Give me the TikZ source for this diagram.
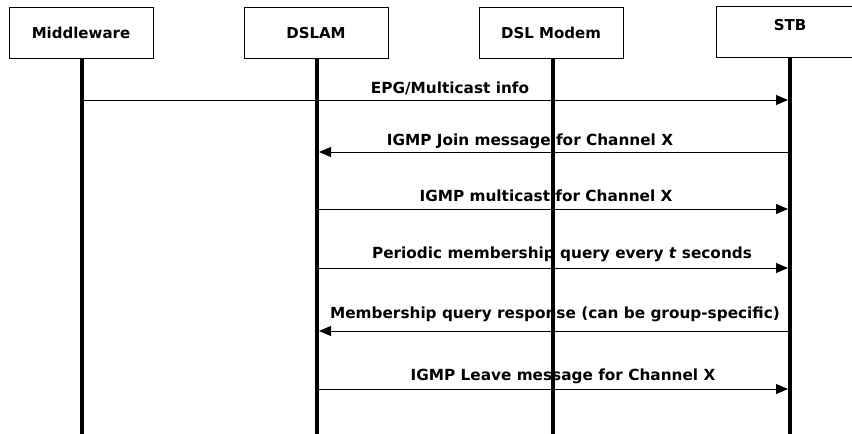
\documentclass[tikz,border=0pt]{standalone}
\usepackage{fontspec}
\setmainfont{DejaVu Sans}
\usetikzlibrary{arrows.meta}
\begin{document}
\begin{tikzpicture}[x=1pt,y=-1pt,
  actor/.style={draw=black,line width=0.8pt,fill=white,minimum width=144pt,minimum height=51pt,inner sep=0pt,font=\fontsize{15}{17}\selectfont\bfseries},
  lifeline/.style={line width=4pt},
  msg/.style={line width=0.9pt,-{Triangle[length=12pt,width=10pt]}},
  lbl/.style={anchor=base,inner sep=0pt,font=\fontsize{15.3}{17}\selectfont\bfseries}]
\useasboundingbox (0,0) rectangle (852,434);
\node[actor] (mw) at (81,33) {Middleware};
\node[actor] (ds) at (316,33) {DSLAM};
\node[actor] (dm) at (551,33) {DSL Modem};
\node[actor,anchor=north west] (stb) at (716,6) {};
\node[lbl,font=\fontsize{15}{17}\selectfont\bfseries] (stbt) at (790,30) {STB};
% lifelines
\coordinate (mwb) at (82,440);
\coordinate (dsb) at (317,440);
\coordinate (dmb) at (553,440);
\coordinate (stbb) at (790,440);
\draw[lifeline] (mw.south -| mwb) -- (mwb);
\draw[lifeline] (ds.south -| dsb) -- (dsb);
\draw[lifeline] (dm.south -| dmb) -- (dmb);
\draw[lifeline] (stb.south -| stbb) -- (stbb);
% message endpoints
\coordinate (m1a) at (82,100);  \coordinate (m1b) at (788,100);
\coordinate (m2a) at (788,152); \coordinate (m2b) at (319,152);
\coordinate (m3a) at (319,209); \coordinate (m3b) at (788,209);
\coordinate (m4a) at (319,268); \coordinate (m4b) at (788,268);
\coordinate (m5a) at (788,331); \coordinate (m5b) at (319,331);
\coordinate (m6a) at (319,389); \coordinate (m6b) at (788,389);
\draw[msg] (m1a) -- (m1b);
\draw[msg] (m2a) -- (m2b);
\draw[msg] (m3a) -- (m3b);
\draw[msg] (m4a) -- (m4b);
\draw[msg] (m5a) -- (m5b);
\draw[msg] (m6a) -- (m6b);
\node[lbl] (l1) at (450,93) {EPG/Multicast info};
\node[lbl] (l2) at (530,145) {IGMP Join message for Channel X};
\node[lbl] (l3) at (546,201.5) {IGMP multicast for Channel X};
\node[lbl] (l4) at (562,258.5) {Periodic membership query every \textit{t} seconds};
\node[lbl] (l5) at (555,318) {Membership query response (can be group-specific)};
\node[lbl] (l6) at (563,380) {IGMP Leave message for Channel X};
\end{tikzpicture}
\end{document}
